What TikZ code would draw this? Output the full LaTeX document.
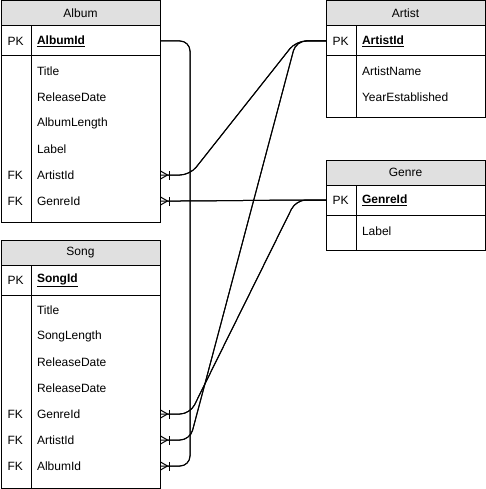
\documentclass[tikz,border=0pt]{standalone}
\usepackage{fontspec}
\setmainfont{Liberation Sans}
\usepackage{tikz}
\usetikzlibrary{arrows.meta,positioning,calc}
\definecolor{headgray}{RGB}{224, 224, 224}

\begin{document}
\begin{tikzpicture}
    [x=1pt, y=-1pt, line width=1pt, font=\fontsize{12}{14}\selectfont,
    tablehead/.style={rectangle, anchor=north west, minimum width=159pt, minimum height=25pt, inner sep=0pt, outer sep=0pt, draw=black, fill=headgray},
    keyrow/.style={rectangle, minimum width=159pt, minimum height=30pt, inner sep=0pt, outer sep=0pt, draw=black},
    tablebody/.style={rectangle, minimum width=159pt, inner sep=0pt, outer sep=0pt, draw=black},
    field/.style={anchor=west, text width=117pt, inner xsep=6pt, inner ysep=2pt, outer sep=0pt, align=left},
    tag/.style={anchor=west, inner sep=0pt},
    link/.style={rounded corners=10pt, postaction={draw, -{Bar[width=9pt] Straight Barb[reversed, length=7pt, width=8pt, sep=0pt]}}}]
    \useasboundingbox (0,0) rectangle (486,489);

    % Album
    \node (album) [tablehead] at (1,1) {Album};
    \node (album-key) [keyrow, below=0pt of album] {};
    \node (album-body) [tablebody, below=0pt of album-key, minimum height=166pt] {};
    \draw ($(album-key.north west)+(30,0)$) -- ($(album-body.south west)+(30,0)$);
    \node (album-pk) [tag] at ($(album-key.west)+(6,0)$) {PK};
    \node (album-id) [field, font=\fontsize{12}{14}\selectfont\bfseries] at ($(album-key.west)+(30,0)$) {\underline{AlbumId}};
    \foreach \txt [count=\i from 0] in {Title, ReleaseDate, AlbumLength, Label, ArtistId, GenreId}
      \node (album-f\i) [field] at (31,{71+26*\i}) {\txt};
    \node (album-fk1) [tag] at (7,175) {FK};
    \node (album-fk2) [tag] at (7,201) {FK};

    % Artist
    \node (artist) [tablehead] at (326,1) {Artist};
    \node (artist-key) [keyrow, below=0pt of artist] {};
    \node (artist-body) [tablebody, below=0pt of artist-key, minimum height=62pt] {};
    \draw ($(artist-key.north west)+(30,0)$) -- ($(artist-body.south west)+(30,0)$);
    \node (artist-pk) [tag] at ($(artist-key.west)+(6,0)$) {PK};
    \node (artist-id) [field, font=\fontsize{12}{14}\selectfont\bfseries] at ($(artist-key.west)+(30,0)$) {\underline{ArtistId}};
    \foreach \txt [count=\i from 0] in {ArtistName, YearEstablished}
      \node (artist-f\i) [field] at (356,{71+26*\i}) {\txt};

    % Genre
    \node (genre) [tablehead] at (326,160) {Genre};
    \node (genre-key) [keyrow, below=0pt of genre] {};
    \node (genre-body) [tablebody, below=0pt of genre-key, minimum height=35pt] {};
    \draw ($(genre-key.north west)+(30,0)$) -- ($(genre-body.south west)+(30,0)$);
    \node (genre-pk) [tag] at ($(genre-key.west)+(6,0)$) {PK};
    \node (genre-id) [field, font=\fontsize{12}{14}\selectfont\bfseries] at ($(genre-key.west)+(30,0)$) {\underline{GenreId}};
    \node (genre-f0) [field] at (356,231) {Label};

    % Song
    \node (song) [tablehead] at (1,240) {Song};
    \node (song-key) [keyrow, below=0pt of song] {};
    \node (song-body) [tablebody, below=0pt of song-key, minimum height=193pt] {};
    \draw ($(song-key.north west)+(30,0)$) -- ($(song-body.south west)+(30,0)$);
    \node (song-pk) [tag] at ($(song-key.west)+(6,0)$) {PK};
    \node (song-id) [field, font=\fontsize{12}{14}\selectfont\bfseries] at ($(song-key.west)+(30,0)$) {\underline{SongId}};
    \foreach \txt [count=\i from 0] in {Title, SongLength, ReleaseDate, ReleaseDate, GenreId, ArtistId, AlbumId}
      \node (song-f\i) [field] at (31,{310+26*\i}) {\txt};
    \node (song-fk1) [tag] at (7,414) {FK};
    \node (song-fk2) [tag] at (7,440) {FK};
    \node (song-fk3) [tag] at (7,466) {FK};

    % relations
    \coordinate (album-bus) at (190,250);
    \draw[link] (album-key.east) -| (album-bus) |- (song-f6.east);
    \draw[link] (artist-key.west) -- ++(-30,0) -- ($(album-f4.east)+(30,0)$) -- (album-f4.east);
    \draw[link] (artist-key.west) -- ++(-30,0) -- ($(song-f5.east)+(30,0)$) -- (song-f5.east);
    \draw[link] (genre-key.west) -- ++(-30,0) -- ($(album-f5.east)+(30,0)$) -- (album-f5.east);
    \draw[link] (genre-key.west) -- ++(-30,0) -- ($(song-f4.east)+(30,0)$) -- (song-f4.east);

\end{tikzpicture}
\end{document}
